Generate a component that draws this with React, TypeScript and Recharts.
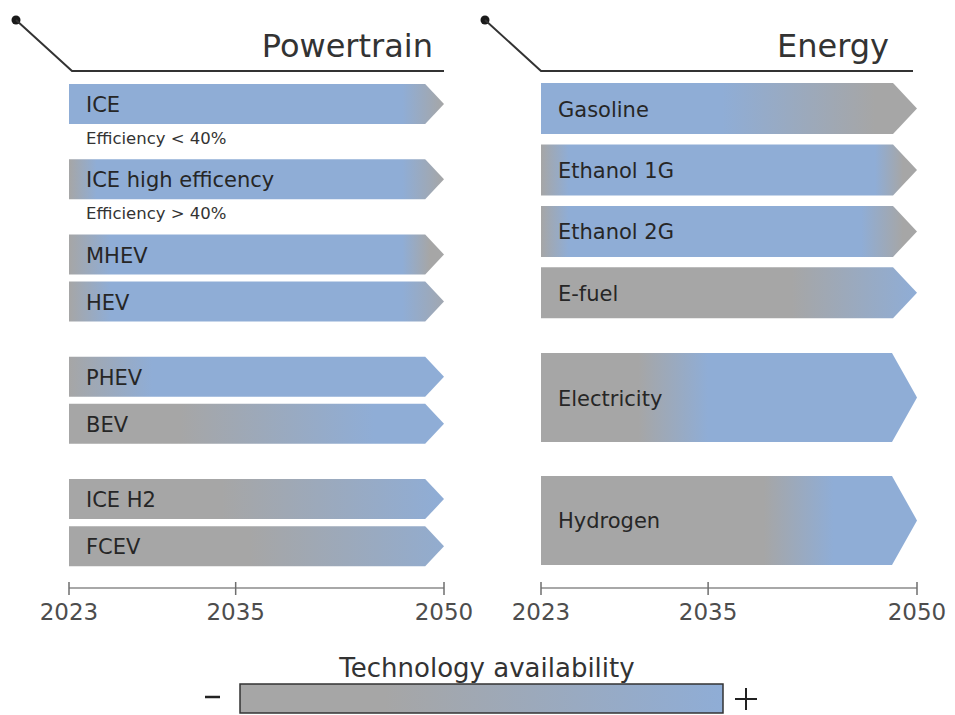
import { Bar, BarChart, XAxis, YAxis } from 'recharts';

const START_YEAR = 2023;
const END_YEAR = 2050;
const YEAR_TICKS = [2023, 2035, 2050];

// Availability is given as [year, level] pairs: 0 = low (grey), 1 = high (blue)
type Profile = [number, number][];

const POWERTRAINS = ['ICE', 'ICE high efficency', 'MHEV', 'HEV', 'PHEV', 'BEV', 'ICE H2', 'FCEV'];
const POWERTRAIN_GROUP = [0, 1, 2, 2, 3, 3, 4, 4];
const POWERTRAIN_NOTES = ['Efficiency < 40%', 'Efficiency > 40%', '', '', '', '', '', ''];
const POWERTRAIN_AVAILABILITY: Profile[] = [
  [[2023, 1], [2047, 1], [2050, 0]],
  [[2023, 0], [2025, 1], [2047, 1], [2050, 0]],
  [[2023, 0], [2026, 1], [2047, 1], [2049, 0], [2050, 0]],
  [[2023, 0], [2026, 1], [2047, 1], [2050, 0.2]],
  [[2023, 0], [2029, 1], [2050, 1]],
  [[2023, 0], [2031, 0], [2045, 1], [2050, 1]],
  [[2023, 0], [2034, 0], [2050, 1]],
  [[2023, 0], [2036, 0], [2050, 0.85]],
];

const ENERGIES = ['Gasoline', 'Ethanol 1G', 'Ethanol 2G', 'E-fuel', 'Electricity', 'Hydrogen'];
const ENERGY_KIND = ['fuel', 'fuel', 'fuel', 'fuel', 'carrier', 'carrier'];
const ENERGY_AVAILABILITY: Profile[] = [
  [[2023, 1], [2036, 1], [2047, 0], [2050, 0]],
  [[2023, 0], [2025, 1], [2047, 1], [2049, 0], [2050, 0]],
  [[2023, 0], [2025, 1], [2046, 1], [2049, 0], [2050, 0]],
  [[2023, 0], [2041, 0], [2050, 1]],
  [[2023, 0], [2030, 0], [2035, 1], [2050, 1]],
  [[2023, 0], [2039, 0], [2044, 1], [2050, 1]],
];

const GREY = [166, 166, 166];
const BLUE = [143, 173, 214];

const mix = (level: number) => {
  const c = GREY.map((g, i) => Math.round(g + (BLUE[i] - g) * level));
  return `rgb(${c[0]},${c[1]},${c[2]})`;
};

const powertrainData = POWERTRAINS.map((name, i) => ({
  name,
  slot: i + POWERTRAIN_GROUP[i] * 0.6,
  span: [START_YEAR, END_YEAR],
  note: POWERTRAIN_NOTES[i],
  gradId: `pt-${i}`,
  profile: POWERTRAIN_AVAILABILITY[i],
}));

// fuels take one slot, energy carriers take two, with a small gap where the kind changes
const energySlots: number[] = [];
ENERGIES.forEach((_, i) => {
  const span = ENERGY_KIND[i] === 'carrier' ? 2 : 1;
  if (i === 0) {
    energySlots.push(0);
    return;
  }
  const prevSpan = ENERGY_KIND[i - 1] === 'carrier' ? 2 : 1;
  const gap = ENERGY_KIND[i] !== ENERGY_KIND[i - 1] ? 0.2 : 0;
  energySlots.push(energySlots[i - 1] + (prevSpan + span) / 2 + gap);
});

const energyData = ENERGIES.map((name, i) => ({
  name,
  kind: ENERGY_KIND[i],
  slot: energySlots[i],
  span: [START_YEAR, END_YEAR],
  note: '',
  gradId: `en-${i}`,
  profile: ENERGY_AVAILABILITY[i],
}));
const fuelData = energyData.filter((d) => d.kind === 'fuel');
const carrierData = energyData.filter((d) => d.kind === 'carrier');

const ENERGY_DOMAIN = [-0.5, 7.8];

function AvailabilityGradient({ id, profile }: { id: string; profile: Profile }) {
  return (
    <linearGradient id={id} x1="0" y1="0" x2="1" y2="0">
      {profile.map(([year, level], k) => (
        <stop
          key={k}
          offset={(year - START_YEAR) / (END_YEAR - START_YEAR)}
          stopColor={mix(level)}
        />
      ))}
    </linearGradient>
  );
}

function ArrowBar(props: any) {
  const { x, y, width, height, payload } = props;
  if (!(width > 0) || !(height > 0)) return null;
  const tip = Math.min(height * 0.47, 25);
  const pts = [
    [x, y],
    [x + width - tip, y],
    [x + width, y + height / 2],
    [x + width - tip, y + height],
    [x, y + height],
  ]
    .map((p) => p.join(','))
    .join(' ');
  return (
    <g>
      <polygon points={pts} fill={`url(#${payload.gradId})`} />
      <text
        x={x + 17}
        y={y + height / 2 + 1}
        dominantBaseline="central"
        fontSize={21}
        fill="#262626"
      >
        {payload.name}
      </text>
      {payload.note ? (
        <text
          x={x + 17}
          y={y + height + 14}
          dominantBaseline="central"
          fontSize={16.5}
          fill="#333"
        >
          {payload.note}
        </text>
      ) : null}
    </g>
  );
}

function YearTick({ x, y, payload }: any) {
  return (
    <g>
      <line x1={x} x2={x} y1={y - 6} y2={y + 7} stroke="#6e6e6e" strokeWidth={1.5} />
      <text x={x} y={y + 24} textAnchor="middle" dominantBaseline="central" fontSize={23} fill="#4d4d4d">
        {payload.value}
      </text>
    </g>
  );
}

function PanelHeader({ x0, x1, titleEnd, title }: { x0: number; x1: number; titleEnd: number; title: string }) {
  return (
    <g>
      <circle cx={x0} cy={20} r={4.5} fill="#1a1a1a" />
      <polyline
        points={`${x0},20 ${x0 + 56},71 ${x1},71`}
        fill="none"
        stroke="#333"
        strokeWidth={2}
      />
      <text x={titleEnd} y={57} textAnchor="end" fontSize={32} fill="#333">
        {title}
      </text>
    </g>
  );
}

export default function App() {
  return (
    <div
      style={{
        position: 'absolute',
        left: 0,
        top: 0,
        width: 955,
        height: 715,
        background: '#fff',
        fontFamily: '"DejaVu Sans", sans-serif',
      }}
    >
      <svg width={955} height={715} style={{ position: 'absolute', left: 0, top: 0 }}>
        <defs>
          <linearGradient id="legend-grad" x1="0" y1="0" x2="1" y2="0">
            <stop offset="0" stopColor={mix(0)} />
            <stop offset="0.3" stopColor={mix(0)} />
            <stop offset="1" stopColor={mix(1)} />
          </linearGradient>
        </defs>
        <PanelHeader x0={16} x1={444} titleEnd={433} title="Powertrain" />
        <PanelHeader x0={485} x1={913} titleEnd={889} title="Energy" />
        <text x={487} y={677} textAnchor="middle" fontSize={26} fill="#333">
          Technology availability
        </text>
        <rect x={240} y={684} width={483} height={29} fill="url(#legend-grad)" stroke="#333" strokeWidth={1.5} />
        <line x1={205} x2={220} y1={697} y2={697} stroke="#222" strokeWidth={2.5} />
        <line x1={735} x2={757} y1={699} y2={699} stroke="#222" strokeWidth={2} />
        <line x1={746} x2={746} y1={688} y2={710} stroke="#222" strokeWidth={2} />
      </svg>

      <div style={{ position: 'absolute', left: 0, top: 0 }}>
        <BarChart
          width={480}
          height={640}
          data={powertrainData}
          layout="vertical"
          margin={{ top: 80, right: 36, bottom: 0, left: 69 }}
        >
          <defs>
            {powertrainData.map((d) => (
              <AvailabilityGradient key={d.gradId} id={d.gradId} profile={d.profile} />
            ))}
          </defs>
          <XAxis
            type="number"
            domain={[START_YEAR, END_YEAR]}
            ticks={YEAR_TICKS}
            height={52}
            axisLine={{ stroke: '#a8a8a8', strokeWidth: 2 }}
            tickLine={false}
            tickSize={0}
            tickMargin={0}
            tick={<YearTick />}
            interval={0}
          />
          <YAxis type="number" dataKey="slot" domain={[-0.5, 10.3]} hide />
          <Bar dataKey="span" barSize={40} shape={<ArrowBar />} isAnimationActive={false} />
        </BarChart>
      </div>

      {/* liquid fuels, with the year axis */}
      <div style={{ position: 'absolute', left: 480, top: 0 }}>
        <BarChart
          width={475}
          height={640}
          data={fuelData}
          layout="vertical"
          margin={{ top: 78, right: 38, bottom: 0, left: 61 }}
        >
          <defs>
            {fuelData.map((d) => (
              <AvailabilityGradient key={d.gradId} id={d.gradId} profile={d.profile} />
            ))}
          </defs>
          <XAxis
            type="number"
            domain={[START_YEAR, END_YEAR]}
            ticks={YEAR_TICKS}
            height={52}
            axisLine={{ stroke: '#a8a8a8', strokeWidth: 2 }}
            tickLine={false}
            tickSize={0}
            tickMargin={0}
            tick={<YearTick />}
            interval={0}
          />
          <YAxis type="number" dataKey="slot" domain={ENERGY_DOMAIN} hide />
          <Bar dataKey="span" barSize={51} shape={<ArrowBar />} isAnimationActive={false} />
        </BarChart>
      </div>

      {/* electricity and hydrogen drawn taller on the same scales */}
      <div style={{ position: 'absolute', left: 480, top: 0 }}>
        <BarChart
          width={475}
          height={640}
          data={carrierData}
          layout="vertical"
          margin={{ top: 78, right: 38, bottom: 52, left: 61 }}
        >
          <defs>
            {carrierData.map((d) => (
              <AvailabilityGradient key={d.gradId} id={d.gradId} profile={d.profile} />
            ))}
          </defs>
          <XAxis type="number" domain={[START_YEAR, END_YEAR]} hide />
          <YAxis type="number" dataKey="slot" domain={ENERGY_DOMAIN} hide />
          <Bar dataKey="span" barSize={89} shape={<ArrowBar />} isAnimationActive={false} />
        </BarChart>
      </div>
    </div>
  );
}
